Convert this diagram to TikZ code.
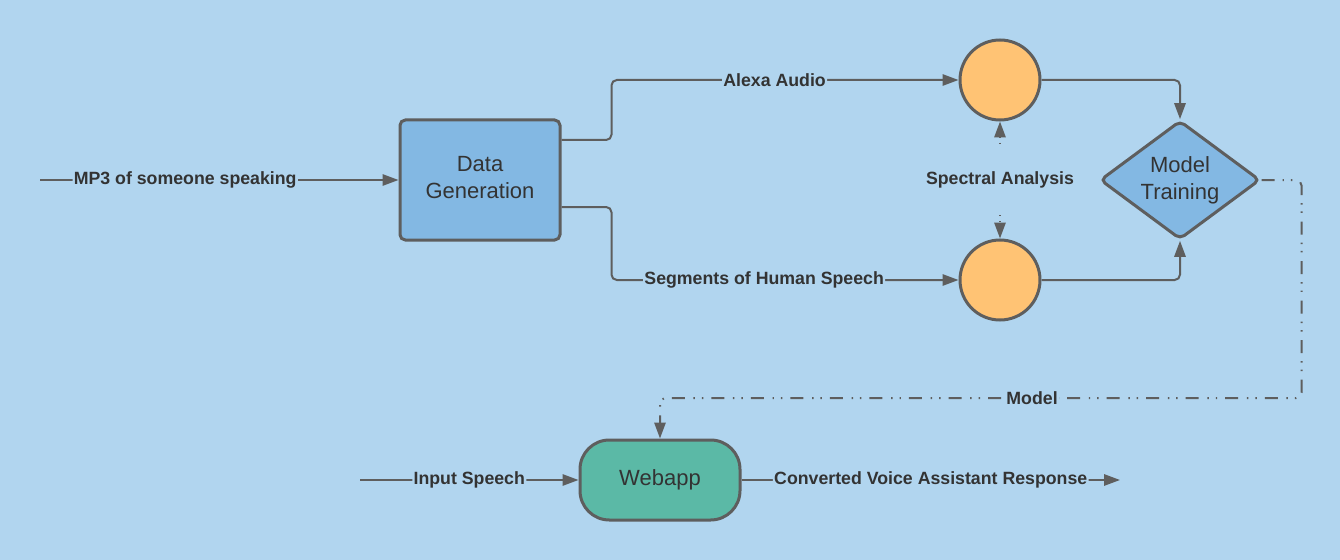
\documentclass[tikz,border=0pt]{standalone}
\usepackage{fontspec}
\setmainfont{Liberation Sans}
\usetikzlibrary{arrows.meta,shapes.geometric,calc}
\definecolor{bg}{HTML}{B1D5EF}
\definecolor{boxblue}{HTML}{83B8E3}
\definecolor{orangec}{HTML}{FFC374}
\definecolor{greenc}{HTML}{5BB9A6}
\definecolor{strokec}{HTML}{5E5E5E}
\definecolor{txt}{HTML}{333333}
\begin{document}
\begin{tikzpicture}[x=0.75pt,y=-0.75pt,
  shapebase/.style={draw=strokec,line width=2.25pt,text=txt,align=center,
    font=\fontsize{16.5}{20}\selectfont,inner sep=0pt},
  procbox/.style={shapebase,fill=boxblue,rectangle,rounded corners=4pt,
    minimum width=120pt,minimum height=90pt},
  dotnode/.style={shapebase,fill=orangec,circle,minimum size=60pt},
  decision/.style={shapebase,fill=boxblue,diamond,aspect=1.34,rounded corners=4pt,
    minimum width=120pt,minimum height=89pt},
  termnode/.style={shapebase,fill=greenc,rectangle,rounded corners=22pt,
    minimum width=120pt,minimum height=60pt},
  conn/.style={draw=strokec,line width=1.5pt,rounded corners=4pt,
    -{Triangle[length=12pt,width=8.5pt]}},
  dotconn/.style={conn,dash pattern=on 1.1pt off 3.4pt},
  modelconn/.style={conn,dash pattern=on 9.75pt off 6pt on 1.1pt off 5.2pt on 1.1pt off 6.5pt},
  lbl/.style={fill=bg,text=txt,font=\fontsize{13.3}{16}\selectfont\bfseries,inner sep=1pt}
]
\fill[bg] (0,0) rectangle (1340,560);
\useasboundingbox (0,0) rectangle (1340,560);

\node[procbox] (dg) at (480,180) {Data\\Generation\vphantom{p}};
\node[dotnode] (a1) at (1000,80) {};
\node[dotnode] (a2) at (1000,280) {};
\node[decision] (mt) at (1180,180) {Model\\Training};
\node[termnode] (web) at (660,480) {Webapp};

\coordinate (in1) at (40,180);
\coordinate (in2) at (360,480);
\coordinate (out) at (1120,480);

\draw[conn] (in1) -- node[lbl,pos=0.405] {MP3 of someone speaking} (dg.west);
\draw[conn] ($(dg.east)+(0,-40)$) -- ++(50,0) |- node[lbl,pos=0.735] {Alexa Audio} (a1.west);
\draw[conn] ($(dg.east)+(0,27)$) -- ++(50,0) |- node[lbl,pos=0.72] {Segments of Human Speech} (a2.west);
\draw[conn] (a1.east) -| (mt.north);
\draw[conn] (a2.east) -| (mt.south);
\draw[dotconn,{Triangle[length=12pt,width=8.5pt]}-{Triangle[length=12pt,width=8.5pt]}] (a1.south) -- node[lbl,inner ysep=19pt] {Spectral Analysis} (a2.north);
\draw[modelconn] (mt.east) -- ++(40,0) -- ++(0,218) -| node[lbl,pos=0.21] {Model} (web.north);
\draw[conn] (in2) -- node[lbl] {Input Speech} (web.west);
\draw[conn] (web.east) -- node[lbl] {Converted Voice Assistant Response} (out);
\end{tikzpicture}
\end{document}
